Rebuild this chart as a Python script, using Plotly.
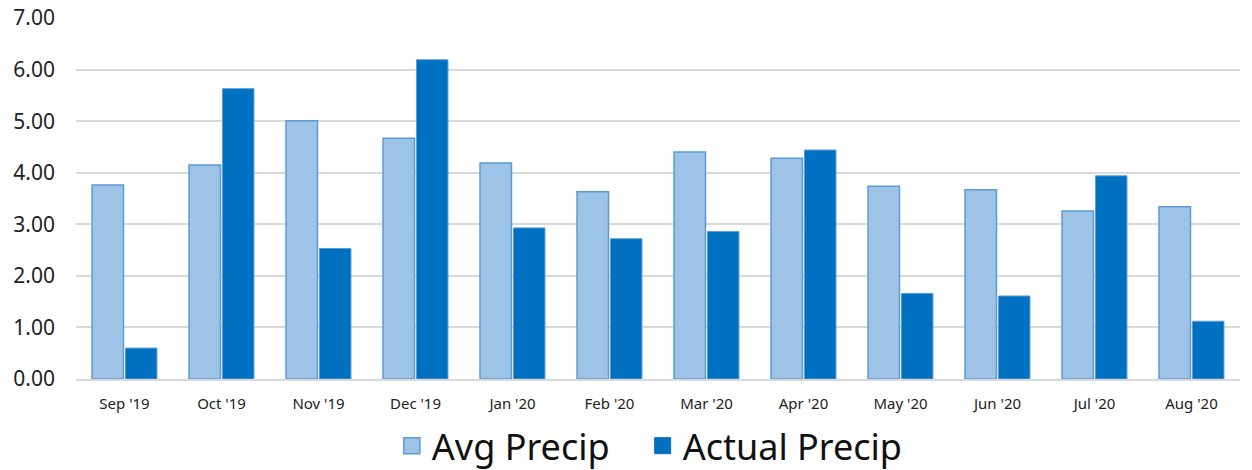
import plotly.graph_objects as go

months = ["Sep '19", "Oct '19", "Nov '19", "Dec '19", "Jan '20", "Feb '20",
          "Mar '20", "Apr '20", "May '20", "Jun '20", "Jul '20", "Aug '20"]
avg_precip = [3.76, 4.15, 5.01, 4.67, 4.19, 3.63, 4.40, 4.28, 3.74, 3.67, 3.26, 3.34]
actual_precip = [0.60, 5.63, 2.53, 6.19, 2.93, 2.72, 2.86, 4.44, 1.66, 1.61, 3.94, 1.12]
y_ticks = [0, 1, 2, 3, 4, 5, 6, 7]

avg_fill, avg_line = "#9DC3E6", "#5B9BD5"
act_fill, act_line = "#0070C0", "#5B9BD5"

fig = go.Figure()
fig.add_trace(go.Bar(
    x=months, y=avg_precip, name="Avg Precip", legendgroup="avg", showlegend=False,
    marker=dict(color=avg_fill, line=dict(color=avg_line, width=1.5)),
))
fig.add_trace(go.Bar(
    x=months, y=actual_precip, name="Actual Precip", legendgroup="act", showlegend=False,
    marker=dict(color=act_fill, line=dict(color=act_line, width=1)),
))
# legend entries with larger square swatches
fig.add_trace(go.Scatter(
    x=[None], y=[None], mode="markers", name="Avg Precip\u00a0\u00a0\u00a0", legendgroup="avg",
    marker=dict(symbol="square", size=22, color=avg_fill, line=dict(color=avg_line, width=1.5)),
))
fig.add_trace(go.Scatter(
    x=[None], y=[None], mode="markers", name="Actual Precip", legendgroup="act",
    marker=dict(symbol="square", size=22, color=act_fill, line=dict(color=act_fill, width=1)),
))

fig.update_layout(
    width=1244, height=462,
    margin=dict(l=68, r=12, t=10, b=91, autoexpand=False),
    paper_bgcolor="white", plot_bgcolor="white",
    barmode="group", bargap=0.31, bargroupgap=0.06,
    font=dict(family="Noto Sans, Open Sans, sans-serif", color="#222222"),
    showlegend=True,
    legend=dict(orientation="h", x=0.493, xanchor="center", y=-0.185, yanchor="middle",
                font=dict(size=36, color="#111111"), itemwidth=30,
                itemsizing="trace"),
    xaxis=dict(tickfont=dict(size=15, color="#222222"), showgrid=False,
               showline=True, linecolor="#D9D9D9", linewidth=1.5, ticks="",
               ticklabelstandoff=10),
    yaxis=dict(range=[0, 7.0001], tickvals=y_ticks, tickformat=".2f",
               tickfont=dict(size=21, color="#222222"),
               showgrid=True, gridcolor="#D9D9D9", gridwidth=1.5,
               zeroline=False, ticks="", ticklabelstandoff=20,
               ticklabeloverflow="allow"),
)

fig.write_html("out.html")
